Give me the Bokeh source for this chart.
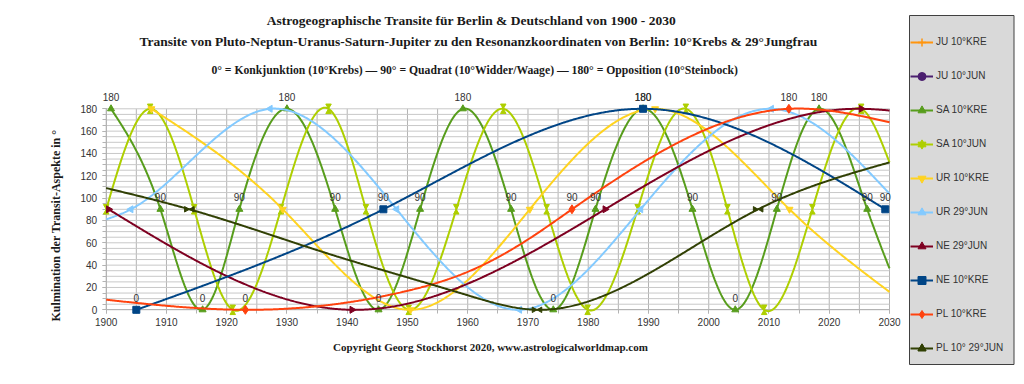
import numpy as np
from bokeh.plotting import figure
from bokeh.models import (Range1d, SingleIntervalTicker, Label, LabelSet, BoxAnnotation,
                          ColumnDataSource, Legend, LegendItem)
from bokeh.core.properties import value
from bokeh.embed import file_html
from bokeh.resources import INLINE

# ---------------- data: culmination points (year, aspect in degrees) ----------------
JU_KRE_YEARS, JU_KRE_DEG = [], []     # listed in the legend only, no line drawn
JU_JUN_YEARS, JU_JUN_DEG = [], []

SA_KRE_YEARS = [1900.8, 1909.0, 1916.0, 1922.1, 1930.0, 1938.0, 1945.2, 1952.1, 1959.2,
                1967.2, 1974.2, 1981.2, 1989.1, 1997.3, 2004.4, 2011.3, 2018.3, 2026.3]
SA_KRE_DEG = [180, 90, 0, 90, 180, 90, 0, 90, 180, 90, 0, 90, 180, 90, 0, 90, 180, 90]
SA_KRE_XTRA_YEARS = [2030.0]          # unmarked points read where the line leaves the plot
SA_KRE_XTRA_DEG = [37]

SA_JUN_YEARS = [1900.0, 1907.3, 1914.6, 1921.0, 1929.0, 1936.9, 1943.1, 1950.2, 1958.1,
                1965.9, 1973.1, 1979.9, 1988.2, 1996.2, 2003.1, 2009.2, 2017.2, 2025.3]
SA_JUN_DEG = [90, 180, 90, 0, 90, 180, 90, 0, 90, 180, 90, 0, 90, 180, 90, 0, 90, 180]
SA_JUN_XTRA_YEARS = [2030.0]
SA_JUN_XTRA_DEG = [132]

UR_KRE_YEARS = [1907.5, 1929.3, 1950.5, 1970.3, 1991.1, 2013.4]
UR_KRE_DEG = [180, 90, 0, 90, 180, 90]
UR_KRE_XTRA_YEARS = [2030.0]
UR_KRE_XTRA_DEG = [16]

UR_JUN_YEARS = [1904.1, 1927.2, 1948.2, 1968.6, 1988.7, 2010.4]
UR_JUN_DEG = [90, 180, 90, 0, 90, 180]
UR_JUN_XTRA_YEARS = [1900.0, 2030.0]
UR_JUN_XTRA_DEG = [81, 104]

NE_JUN_YEARS = [1900.4, 1940.8, 1982.8, 2025.3]
NE_JUN_DEG = [90, 0, 90, 180]
NE_JUN_XTRA_YEARS = [2030.0]
NE_JUN_XTRA_DEG = [178.5]

NE_KRE_YEARS = [1905.0, 1946.0, 1989.1, 2029.3]
NE_KRE_DEG = [0, 90, 180, 90]
NE_KRE_XTRA_YEARS = []
NE_KRE_XTRA_DEG = []

PL_KRE_YEARS = [1923.1, 1977.3, 2013.3]
PL_KRE_DEG = [0, 90, 180]
PL_KRE_XTRA_YEARS = [1900.0, 1950.0, 1960.0, 1970.0, 2030.0]
PL_KRE_XTRA_DEG = [9, 17, 34, 63, 168]

PL_JUN_YEARS = [1913.8, 1971.5, 2008.2]
PL_JUN_DEG = [90, 0, 90]
PL_JUN_XTRA_YEARS = [1900.0, 1937.0, 1950.0, 1960.0, 2030.0]
PL_JUN_XTRA_DEG = [109, 50, 29, 13, 132]

YEAR_MIN, YEAR_MAX = 1900, 2030
DEG_MIN, DEG_MAX = 0, 180
X_TICK_STEP = 10
Y_TICK_STEP = 20
GRID_STEP = 5
GRID_YEARS = list(range(YEAR_MIN, YEAR_MAX + 1, GRID_STEP))
GRID_DEGS = list(range(DEG_MIN, DEG_MAX + 1, GRID_STEP))

TITLE_1 = "Astrogeographische Transite für Berlin & Deutschland von 1900 - 2030"
TITLE_2 = ("Transite von Pluto-Neptun-Uranus-Saturn-Jupiter zu den Resonanzkoordinaten "
           "von Berlin: 10°Krebs & 29°Jungfrau")
TITLE_3 = ("0° = Konkjunktion (10°Krebs)  —  90° = Quadrat  (10°Widder/Waage)  — "
           "180° = Opposition (10°Steinbock)")
COPYRIGHT = "Copyright Georg Stockhorst 2020, www.astrologicalworldmap.com"
Y_LABEL = "Kulmination der Transit-Aspekte in °"

# name, colour, marker kind, key years, key degrees, extra years, extra degrees, data labels?
SERIES = [
    ("JU 10°KRE", "#ff950e", "cross", JU_KRE_YEARS, JU_KRE_DEG, [], [], False),
    ("JU 10°JUN", "#4b1f6f", "circle", JU_JUN_YEARS, JU_JUN_DEG, [], [], False),
    ("SA 10°KRE", "#579d1c", "triangle", SA_KRE_YEARS, SA_KRE_DEG, SA_KRE_XTRA_YEARS, SA_KRE_XTRA_DEG, True),
    ("SA 10°JUN", "#aecf00", "hourglass", SA_JUN_YEARS, SA_JUN_DEG, SA_JUN_XTRA_YEARS, SA_JUN_XTRA_DEG, False),
    ("UR 10°KRE", "#ffd320", "inverted_triangle", UR_KRE_YEARS, UR_KRE_DEG, UR_KRE_XTRA_YEARS, UR_KRE_XTRA_DEG, False),
    ("UR 29°JUN", "#83caff", "left", UR_JUN_YEARS, UR_JUN_DEG, UR_JUN_XTRA_YEARS, UR_JUN_XTRA_DEG, False),
    ("NE 29°JUN", "#7e0021", "right", NE_JUN_YEARS, NE_JUN_DEG, NE_JUN_XTRA_YEARS, NE_JUN_XTRA_DEG, False),
    ("NE 10°KRE", "#004586", "square", NE_KRE_YEARS, NE_KRE_DEG, NE_KRE_XTRA_YEARS, NE_KRE_XTRA_DEG, True),
    ("PL 10°KRE", "#ff420e", "diamond", PL_KRE_YEARS, PL_KRE_DEG, PL_KRE_XTRA_YEARS, PL_KRE_XTRA_DEG, True),
    ("PL 10° 29°JUN", "#314004", "bowtie", PL_JUN_YEARS, PL_JUN_DEG, PL_JUN_XTRA_YEARS, PL_JUN_XTRA_DEG, False),
]


def natural_spline(xk, yk, n=700):
    """Smoothed line (natural cubic spline) through the points, as the original chart draws it."""
    xk = np.asarray(xk, float)
    yk = np.asarray(yk, float)
    m = len(xk)
    if m < 3:
        return xk, yk
    h = np.diff(xk)
    A = np.zeros((m, m))
    r = np.zeros(m)
    A[0, 0] = 1.0
    A[-1, -1] = 1.0
    for i in range(1, m - 1):
        A[i, i - 1] = h[i - 1]
        A[i, i] = 2 * (h[i - 1] + h[i])
        A[i, i + 1] = h[i]
        r[i] = 6 * ((yk[i + 1] - yk[i]) / h[i] - (yk[i] - yk[i - 1]) / h[i - 1])
    M = np.linalg.solve(A, r)
    xs = np.linspace(xk[0], xk[-1], n)
    idx = np.clip(np.searchsorted(xk, xs) - 1, 0, m - 2)
    x0, x1 = xk[idx], xk[idx + 1]
    hh = x1 - x0
    t0, t1 = x1 - xs, xs - x0
    ys = (M[idx] * t0 ** 3 / (6 * hh) + M[idx + 1] * t1 ** 3 / (6 * hh)
          + (yk[idx] / hh - M[idx] * hh / 6) * t0 + (yk[idx + 1] / hh - M[idx + 1] * hh / 6) * t1)
    return xs, ys


# ---------------- layout: the frame fills the canvas, axes sit at fixed locations ----------------
W, H = 1024, 384
PX_1900, PX_2030 = 105.7, 889.0     # horizontal pixel of the plot area edges
PY_0, PY_180 = 309.3, 108.3         # vertical pixel of 0° and 180°
SX = (PX_2030 - PX_1900) / (YEAR_MAX - YEAR_MIN)
SY = (PY_0 - PY_180) / (DEG_MAX - DEG_MIN)
X_START = YEAR_MIN - PX_1900 / SX
X_END = X_START + W / SX
Y_END = PY_0 / SY
Y_START = -(H - PY_0) / SY


def X(px):
    return YEAR_MIN + (px - PX_1900) / SX


def Y(py):
    return (PY_0 - py) / SY


p = figure(output_backend="svg", toolbar_location=None, title=None,
           frame_width=W, frame_height=H, min_border=0,
           x_range=Range1d(X_START, X_END), y_range=Range1d(Y_START, Y_END),
           background_fill_color="white", border_fill_color="white")
p.outline_line_color = None
p.xgrid.visible = False
p.ygrid.visible = False

# grid of the plot area
p.segment(x0=GRID_YEARS, y0=[DEG_MIN] * len(GRID_YEARS), x1=GRID_YEARS, y1=[DEG_MAX] * len(GRID_YEARS),
          line_color="#b3b3b3", line_width=1, level="underlay")
p.segment(x0=[YEAR_MIN] * len(GRID_DEGS), y0=GRID_DEGS, x1=[YEAR_MAX] * len(GRID_DEGS), y1=GRID_DEGS,
          line_color="#c8c8c8", line_width=1, level="underlay")

p.xaxis.fixed_location = DEG_MIN
p.yaxis.fixed_location = YEAR_MIN
p.xaxis.bounds = (YEAR_MIN, YEAR_MAX)
p.yaxis.bounds = (DEG_MIN, DEG_MAX)
p.xaxis.ticker = SingleIntervalTicker(interval=X_TICK_STEP, num_minor_ticks=2)
p.yaxis.ticker = SingleIntervalTicker(interval=Y_TICK_STEP, num_minor_ticks=4)
for ax in (p.xaxis, p.yaxis):
    ax.axis_line_color = "#b3b3b3"
    ax.major_tick_line_color = "#b3b3b3"
    ax.minor_tick_line_color = "#b3b3b3"
    ax.major_tick_in = 0
    ax.minor_tick_in = 0
    ax.major_tick_out = 4
    ax.minor_tick_out = 4
    ax.major_label_text_font = "Liberation Sans"
    ax.major_label_text_font_size = "10px"
    ax.major_label_text_color = "#333333"
    ax.level = "underlay"
p.xaxis.major_label_standoff = 4
p.yaxis.major_label_standoff = 5

items = []
lab_x, lab_y, lab_t = [], [], []
tri_r = 5.5 / 2
tri_apex = tri_r * np.sqrt(3) * 2 / 3     # distance from centre to apex of a Bokeh triangle, px
for name, col, kind, kx, ky, ex, ey, labelled in SERIES:
    kx, ky = list(kx), list(ky)
    pts = sorted(zip(kx + list(ex), ky + list(ey)))
    if pts:
        cx, cy = natural_spline([a for a, _ in pts], [b for _, b in pts])
        cx, cy = list(cx), list(cy)
    else:
        cx, cy = [np.nan], [np.nan]
    if not kx:
        kx, ky = [np.nan], [np.nan]
    rends = [p.line(cx, cy, line_color=col, line_width=2)]
    if kind == "hourglass":
        rends.append(p.scatter(kx, [b + tri_apex / SY for b in ky], marker="inverted_triangle",
                               size=5.5, color=col))
        rends.append(p.scatter(kx, [b - tri_apex / SY for b in ky], marker="triangle",
                               size=5.5, color=col))
    elif kind == "bowtie":
        rends.append(p.scatter([a - tri_apex / SX for a in kx], ky, marker="triangle", angle=-np.pi / 2,
                               size=5.5, color=col))
        rends.append(p.scatter([a + tri_apex / SX for a in kx], ky, marker="triangle", angle=np.pi / 2,
                               size=5.5, color=col))
    elif kind == "left":
        rends.append(p.scatter(kx, ky, marker="triangle", angle=np.pi / 2, size=7, color=col))
    elif kind == "right":
        rends.append(p.scatter(kx, ky, marker="triangle", angle=-np.pi / 2, size=7, color=col))
    elif kind == "cross":
        rends.append(p.scatter(kx, ky, marker="cross", size=8, color=col, line_width=1.5))
    elif kind == "diamond":
        rends.append(p.scatter(kx, ky, marker="diamond", size=9, color=col))
    elif kind == "circle":
        rends.append(p.scatter(kx, ky, marker="circle", size=6, color=col))
    else:
        rends.append(p.scatter(kx, ky, marker=kind, size=7, color=col))
    items.append(LegendItem(label=name, renderers=rends))
    if labelled:
        lab_x += kx
        lab_y += ky
        lab_t += [str(int(v)) for v in ky]

labels_src = ColumnDataSource(data=dict(x=lab_x, y=lab_y, t=lab_t))
p.add_layout(LabelSet(x="x", y="y", text="t", source=labels_src, y_offset=12,
                      text_align="center", text_baseline="middle",
                      text_font=value("Liberation Sans"), text_font_size=value("10px"),
                      text_color="#333333"))

# ---------------- texts ----------------
serif = "Liberation Serif"
TXT = dict(text_align="center", text_baseline="middle", text_font=serif,
           text_font_style="bold", text_color="#1a1a1a")
p.add_layout(Label(x=X(471), y=Y(20), text=TITLE_1, text_font_size="13.5px", **TXT))
p.add_layout(Label(x=X(478), y=Y(41), text=TITLE_2, text_font_size="13.5px", **TXT))
p.add_layout(Label(x=X(480), y=Y(70), text=TITLE_3, text_font_size="11.7px", **TXT))
p.add_layout(Label(x=X(490), y=Y(346), text=COPYRIGHT, text_font_size="11px", **TXT))
p.add_layout(Label(x=X(55), y=Y(225), text=Y_LABEL, angle=np.pi / 2, text_font_size="12px", **TXT))

# legend: grey box drawn separately, items laid over it
p.add_layout(BoxAnnotation(left=X(909), right=X(1013.5), top=Y(15), bottom=Y(364),
                           fill_color="#d9d9d9", fill_alpha=1.0,
                           line_color="#404040", line_alpha=1.0, line_width=1))
legend = Legend(items=items, location=(910, H - 357.5), margin=0, padding=7, spacing=14,
                label_height=20, glyph_height=20, glyph_width=23, label_standoff=3,
                label_text_font="Liberation Sans", label_text_font_size="10px",
                label_text_color="#333333",
                background_fill_alpha=0.0, border_line_color=None)
p.add_layout(legend)

open("out.html", "w").write(file_html(p, INLINE))
